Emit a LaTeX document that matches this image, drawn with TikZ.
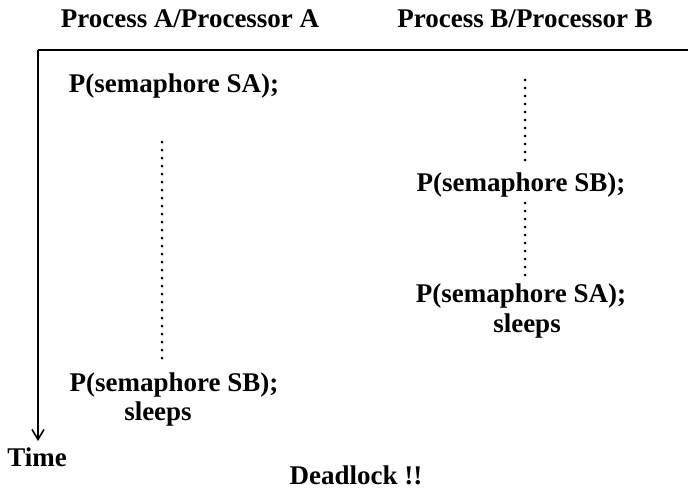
\documentclass[tikz,border=0pt]{standalone}
\usepackage{fontspec}
\setmainfont{Liberation Serif}
\usetikzlibrary{arrows.meta}
\begin{document}
\begin{tikzpicture}[x=1pt,y=-1pt,
  lbl/.style={inner sep=0pt,font=\fontsize{27}{31}\selectfont\bfseries},
  dotline/.style={line width=3pt,dash pattern=on 0pt off 8pt,line cap=round},
  axis/.style={line width=1.6pt}]
\useasboundingbox (0,0) rectangle (688,490);
\node[lbl] (ha) at (190,19) {Process A/Processor A};
\node[lbl] (hb) at (525,19) {Process B/Processor B};
\coordinate (corner) at (38,50);
\coordinate (right) at (688,50);
\coordinate (tip) at (38,441);
\draw[axis] (right) -- (corner);
\draw[axis,-{Straight Barb[length=10pt,width=12pt]}] (corner) -- (tip);
\node[lbl] (time) at (37,457) {Time};
\node[lbl] (deadlock) at (356,475) {Deadlock !!};
% Process A
\node[lbl] (a1) at (174,86) {P(semaphore SA);};
\node[lbl] (a2) at (174,385) {P(semaphore SB);};
\node[lbl] (a3) at (158,414) {sleeps};
\coordinate (da1) at (162,142);
\coordinate (da2) at (162,358);
\draw[dotline] (da1) -- (da2);
% Process B
\node[lbl] (b1) at (521,185) {P(semaphore SB);};
\node[lbl] (b2) at (521,296) {P(semaphore SA);};
\node[lbl] (b3) at (527,326) {sleeps};
\coordinate (db1) at (525,80);
\coordinate (db2) at (525,167);
\coordinate (db3) at (525,203);
\coordinate (db4) at (525,276);
\draw[dotline] (db1) -- (db2);
\draw[dotline] (db3) -- (db4);
\end{tikzpicture}
\end{document}
